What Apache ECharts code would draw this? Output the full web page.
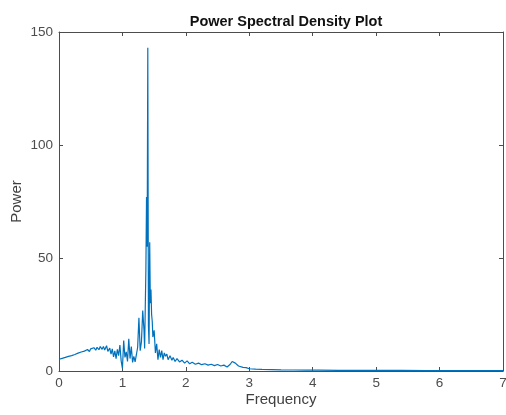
<!DOCTYPE html>
<html>
<head>
<meta charset="utf-8">
<script src="https://cdn.jsdelivr.net/npm/echarts@6/dist/echarts.min.js"></script>
<style>
  html, body { margin: 0; padding: 0; background: #fff; }
  #chart { width: 506px; height: 415px; }
</style>
</head>
<body>
<div id="chart"></div>
<script>
// frequency / power
const freq = [
    0.00, 0.05, 0.10, 0.15, 0.20, 0.25, 0.30, 0.35, 0.40, 0.45,
    0.48, 0.50, 0.53, 0.55, 0.58, 0.60, 0.63, 0.65, 0.68, 0.70,
    0.72, 0.75, 0.77, 0.80, 0.82, 0.84, 0.86, 0.88, 0.90, 0.92,
    0.94, 0.96, 0.98, 1.00, 1.02, 1.04, 1.06, 1.08, 1.10, 1.12,
    1.14, 1.16, 1.18, 1.20, 1.22, 1.24, 1.26, 1.28, 1.30, 1.32,
    1.34, 1.35, 1.36, 1.37, 1.38, 1.39, 1.40, 1.41, 1.42, 1.43,
    1.44, 1.45, 1.46, 1.47, 1.48, 1.50, 1.52, 1.54, 1.56, 1.58,
    1.60, 1.62, 1.64, 1.66, 1.68, 1.70, 1.72, 1.75, 1.78, 1.80,
    1.83, 1.86, 1.90, 1.94, 1.98, 2.02, 2.06, 2.10, 2.15, 2.20,
    2.25, 2.30, 2.35, 2.40, 2.45, 2.50, 2.55, 2.60, 2.65, 2.70,
    2.73, 2.76, 2.78, 2.80, 2.83, 2.86, 2.90, 2.95, 3.00, 3.10,
    3.20, 3.35, 3.50, 3.70, 3.90, 4.10, 4.40, 4.70, 5.00, 5.40,
    5.80, 6.20, 6.60, 7.00
];
const power = [
    5.2, 5.6, 6.0, 6.5, 6.8, 7.3, 7.9, 8.4, 8.8, 9.5,
    8.6, 9.8, 9.0, 10.3, 9.2, 10.5, 9.4, 10.8, 9.6, 10.9,
    9.3, 11.2, 8.7, 10.1, 7.5, 9.8, 6.2, 8.9, 5.5, 9.6,
    6.8, 11.5, 4.5, 1.2, 13.5, 6.0, 8.5, 4.2, 14.2, 5.5,
    10.8, 3.8, 6.5, 4.0, 7.2, 10.5, 23.5, 9.0, 13.0, 26.8,
    18.0, 10.0, 28.0, 45.0, 77.0, 55.0, 143.0, 20.0, 12.0, 57.0,
    30.0, 36.0, 25.0, 22.0, 15.0, 18.0, 8.0, 12.0, 5.0, 9.5,
    6.0, 9.0, 5.0, 8.0, 6.5, 7.5, 5.0, 6.8, 4.8, 6.0,
    4.2, 5.5, 4.0, 4.8, 3.5, 4.5, 3.2, 3.9, 3.0, 3.5,
    2.8, 3.2, 2.6, 3.0, 2.4, 2.9, 2.2, 2.6, 1.8, 3.0,
    4.2, 5.0, 3.5, 4.3, 2.2, 2.8, 1.6, 1.5, 1.0, 0.8,
    0.7, 0.6, 0.5, 0.45, 0.4, 0.35, 0.3, 0.3, 0.25, 0.25,
    0.2, 0.2, 0.2, 0.2
];
const xTicks = [0, 7, 1];
const yTicks = [0, 150, 50];

const chart = echarts.init(document.getElementById('chart'));
const axisCol = '#4d4d4d';
const boxAxis = (extra) => Object.assign({
    type: 'value',
    axisLine: {show: true, onZero: false, lineStyle: {color: axisCol, width: 1}},
    axisTick: {show: true, inside: true, length: 4, lineStyle: {color: axisCol}},
    splitLine: {show: false},
}, extra);

chart.setOption({
    animation: false,
    title: {
        text: 'Power Spectral Density Plot',
        left: 281, top: 9, textAlign: 'center',
        textStyle: {fontFamily: 'Liberation Sans', fontSize: 14.5, fontWeight: 'bold', color: '#111'},
    },
    grid: {left: 59, right: 3, top: 32, bottom: 44, outerBoundsMode: 'none'},
    xAxis: [
        boxAxis({
            min: xTicks[0], max: xTicks[1], interval: xTicks[2],
            name: 'Frequency', nameLocation: 'middle', nameGap: 21, nameMoveOverlap: false,
            nameTextStyle: {fontFamily: 'Liberation Sans', fontSize: 15, color: '#404040'},
            axisLabel: {fontFamily: 'Liberation Sans', fontSize: 13.5, color: axisCol, margin: 5},
        }),
        boxAxis({
            position: 'top', min: xTicks[0], max: xTicks[1], interval: xTicks[2],
            axisLabel: {show: false},
        }),
    ],
    yAxis: [
        boxAxis({
            min: yTicks[0], max: yTicks[1], interval: yTicks[2],
            name: 'Power', nameLocation: 'middle', nameGap: 35, nameMoveOverlap: false,
            nameTextStyle: {fontFamily: 'Liberation Sans', fontSize: 15, color: '#404040'},
            axisLabel: {fontFamily: 'Liberation Sans', fontSize: 13.5, color: axisCol, margin: 6},
        }),
        boxAxis({
            position: 'right', min: yTicks[0], max: yTicks[1], interval: yTicks[2],
            axisLabel: {show: false},
        }),
    ],
    series: [{
        type: 'line',
        data: freq.map((f, i) => [f, power[i]]),
        showSymbol: false,
        lineStyle: {color: '#0072BD', width: 1.2},
    }],
});
</script>
</body>
</html>
